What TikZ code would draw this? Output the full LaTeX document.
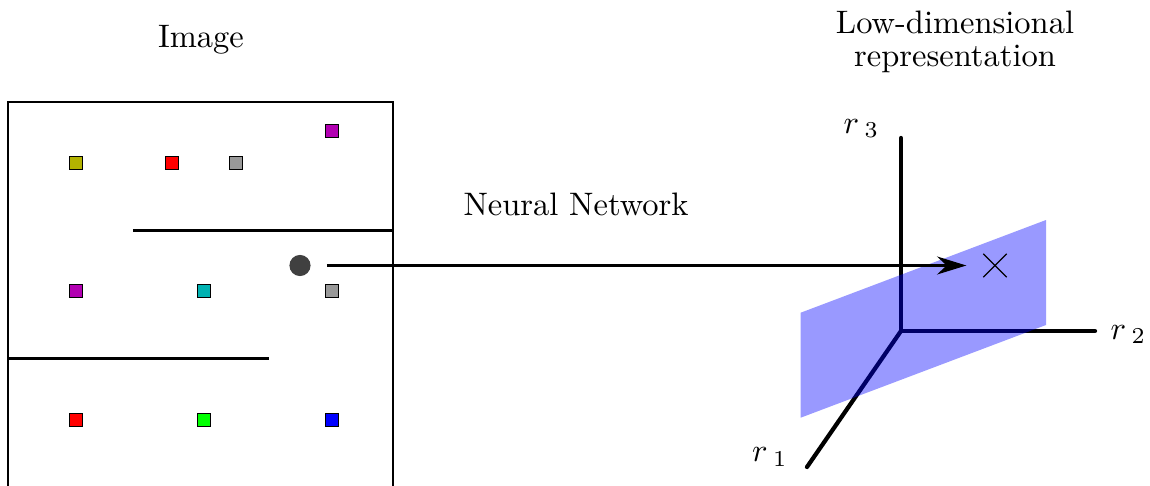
\documentclass[tikz,border=0pt]{standalone}
\usetikzlibrary{arrows.meta,shapes.misc}
\definecolor{cellolive}{rgb}{0.7,0.7,0}
\definecolor{cellpurple}{rgb}{0.7,0,0.7}
\definecolor{cellteal}{rgb}{0,0.7,0.7}
\definecolor{cellgray}{rgb}{0.6,0.6,0.6}

\begin{document}
\begin{tikzpicture}[x=0.3077pt,y=-0.3077pt,>={Stealth[length=9pt,width=5.5pt]},
  cell/.style={draw,fill=#1,minimum size=3.8pt,inner sep=0pt},
  wall/.style={line width=1pt},
  axis/.style={line width=1.3pt,line cap=round}]
\useasboundingbox (0,0) rectangle (1150,486);
% image with walls and cells
\draw (8,102) rectangle (393,500);
\draw[wall] (133,230.5) -- (393,230.5);
\draw[wall] (8,358.5) -- (269,358.5);
\foreach \c/\px/\py [count=\i] in {cellolive/76/163,red/172/163,cellgray/236/163,cellpurple/332/131,
  cellpurple/76/291,cellteal/204/291,cellgray/332/291,red/76/420,green/204/420,blue/332/420}
  \node[cell=\c] (sq\i) at (\px,\py) {};
\node[circle,fill=black!75,minimum size=6.5pt,inner sep=0pt] (agent) at (300,265.5) {};
% axes and plane
\coordinate (o) at (901,331);
\coordinate (e1) at (807,467);
\coordinate (e2) at (1095,331);
\coordinate (e3) at (901,138);
\draw[axis] (o) -- (e1); \draw[axis] (o) -- (e2); \draw[axis] (o) -- (e3);
\fill[blue,fill opacity=0.4] (800.7,312.7) -- (1046,220) -- (1046,325) -- (800.7,417.7) -- cycle;
\node[draw,cross out,minimum size=6.8pt,inner sep=0pt] (point) at (995,265.5) {};
\draw[->,line width=1pt,shorten <=4.8pt,shorten >=5.2pt] (agent) -- (point);
% labels
\node (title) at (201,40) {Image};
\node[align=center,font=\fontsize{10}{10.2}\selectfont] (lowdim) at (955,42) {Low-dimensional\\representation};
\node (nn) at (576,204) {Neural Network};
\node (l1) at (770,457) {$r\,_1$};
\node (l2) at (1128.5,334.5) {$r\,_2$};
\node (l3) at (861.5,128.5) {$r\,_3$};
\end{tikzpicture}
\end{document}
